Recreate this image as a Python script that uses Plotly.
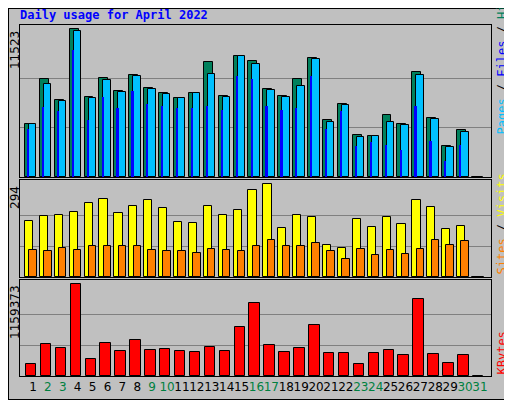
import plotly.graph_objects as go

days = list(range(1, 32))
hits = [4164,7621,5997,11523,6207,7700,6705,7936,6914,6521,6128,6521,8983,6286,9428,9035,
        6835,6286,7621,9271,4400,5657,3300,3221,4793,4164,8197,4583,2436,3693,0]
files = [4164,7228,5919,11392,6128,7543,6600,7857,6835,6443,6128,6521,8014,6207,9428,8800,
         6757,6207,7071,9193,4321,5578,3143,3221,4321,4086,7936,4505,2357,3536,0]
pages = [3719,5421,5133,9926,4426,6233,5343,6705,5657,5526,5343,5343,5500,5212,7883,7621,
         5500,5212,5343,7883,3719,5133,2383,2698,2462,2069,5500,2776,1257,2462,0]
visits = [179,195,198,205,234,249,202,224,243,218,176,173,227,198,214,275,294,157,198,189,
          103,93,183,160,189,167,243,221,154,163,0]
sites = [87,84,93,87,97,97,100,100,87,84,84,77,90,87,84,100,116,97,100,109,81,58,90,71,87,
         74,90,116,103,113,0]
kbytes = [156558,410436,359660,1159373,220028,423130,321579,461212,334273,346967,321579,
          308885,372354,321579,626232,918192,397742,308885,359660,651620,296191,296191,
          156558,296191,334273,270803,968968,283497,169252,270803,0]
weekend = {2,3,9,10,16,17,23,24,30,31}
tick_labels = [f"<span style='color:#008040'>{d}</span>" if d in weekend else str(d) for d in days]

max_hits, max_visits, max_kb = 11523, 294, 1159373

# page has an 8px body margin: figure is 504x392 placed at (8,8)
W, H, OFF = 504, 392, 8
def px(x): return (x - OFF) / W
def py(y): return 1 - (y - OFF) / H

fig = go.Figure()
line = dict(color="black", width=1)
fig.add_bar(x=days, y=hits, offset=-0.54, width=0.6, marker=dict(color="#00805c", line=line), xaxis="x", yaxis="y")
fig.add_bar(x=days, y=files, offset=-0.27, width=0.5, marker=dict(color="#00c0ff", line=line), xaxis="x", yaxis="y")
fig.add_bar(x=days, y=pages, offset=-0.4, width=0.15, marker=dict(color="#0000ff", line=dict(width=0)), xaxis="x", yaxis="y")
fig.add_bar(x=days, y=visits, offset=-0.54, width=0.55, marker=dict(color="#ffff00", line=line), xaxis="x2", yaxis="y2")
fig.add_bar(x=days, y=sites, offset=-0.25, width=0.5, marker=dict(color="#ff8000", line=line), xaxis="x2", yaxis="y2")
fig.add_bar(x=days, y=kbytes, offset=-0.47, width=0.7, marker=dict(color="#ff0000", line=line), xaxis="x3", yaxis="y3")

xd = [px(20), px(491)]
xcommon = dict(range=[0.13, 31.74], domain=xd, showgrid=False, zeroline=False,
               showline=True, mirror=True, linecolor="black", linewidth=1)
def ycommon(m, top, dom, anchor):
    return dict(range=[0, top], domain=dom, tickvals=[m/3, 2*m/3], showticklabels=False,
                showgrid=True, gridcolor="#808080", gridwidth=1, zeroline=False,
                showline=True, mirror=True, linecolor="black", linewidth=1, anchor=anchor, ticks="")

fig.update_layout(
    width=W, height=H, margin=dict(l=0, r=0, t=0, b=0, autoexpand=False),
    paper_bgcolor="#c0c0c0", plot_bgcolor="#c0c0c0", showlegend=False, barmode="overlay",
    bargap=0,
    xaxis=dict(xcommon, anchor="y", showticklabels=False, ticks=""),
    xaxis2=dict(xcommon, anchor="y2", showticklabels=False, ticks=""),
    xaxis3=dict(xcommon, anchor="y3", tickvals=days, ticktext=tick_labels, ticks="",
                tickangle=0, automargin=False,
                tickfont=dict(family="DejaVu Sans", size=12, color="black")),
    yaxis=ycommon(max_hits, 11836, [py(177), py(25)], "x"),
    yaxis2=ycommon(max_visits, 308, [py(277), py(180)], "x2"),
    yaxis3=ycommon(max_kb, 1215000, [py(376), py(280)], "x3"),
    font=dict(family="DejaVu Sans", size=12, color="black"),
)

ann = []
ann.append(dict(text="<b>Daily usage for April 2022</b>", x=px(18), y=py(15), xref="paper", yref="paper",
                xanchor="left", yanchor="middle", showarrow=False,
                font=dict(family="DejaVu Sans Mono", size=12, color="#0000ff")))
for val, yr in [(max_hits, "y"), (max_visits, "y2"), (max_kb, "y3")]:
    ann.append(dict(text=str(val), x=px(15), xref="paper", y=val, yref=yr, xanchor="center",
                    yanchor="top", textangle=-90, showarrow=False,
                    font=dict(family="DejaVu Sans", size=12, color="black")))
rf = dict(family="DejaVu Sans Mono", size=12)
ann.append(dict(text="<span style='color:#00c0ff'>Pages</span> / <span style='color:#0000ff'>Files</span> / <span style='color:#00805c'>Hits</span>",
                x=px(501), y=py(137), xref="paper", yref="paper", xanchor="center", yanchor="bottom",
                textangle=-90, showarrow=False, font=rf))
ann.append(dict(text="<span style='color:#ff8000'>Sites</span> / <span style='color:#ffff00'>Visits</span>",
                x=px(501), y=py(277), xref="paper", yref="paper", xanchor="center", yanchor="bottom",
                textangle=-90, showarrow=False, font=rf))
ann.append(dict(text="<span style='color:#ff0000'>KBytes</span>",
                x=px(501), y=py(377), xref="paper", yref="paper", xanchor="center", yanchor="bottom",
                textangle=-90, showarrow=False, font=rf))
fig.update_layout(annotations=ann)
fig.add_shape(type="rect", xref="paper", yref="paper", x0=0, y0=0, x1=1, y1=1,
              line=dict(color="black", width=2))
fig.write_html("out.html")
